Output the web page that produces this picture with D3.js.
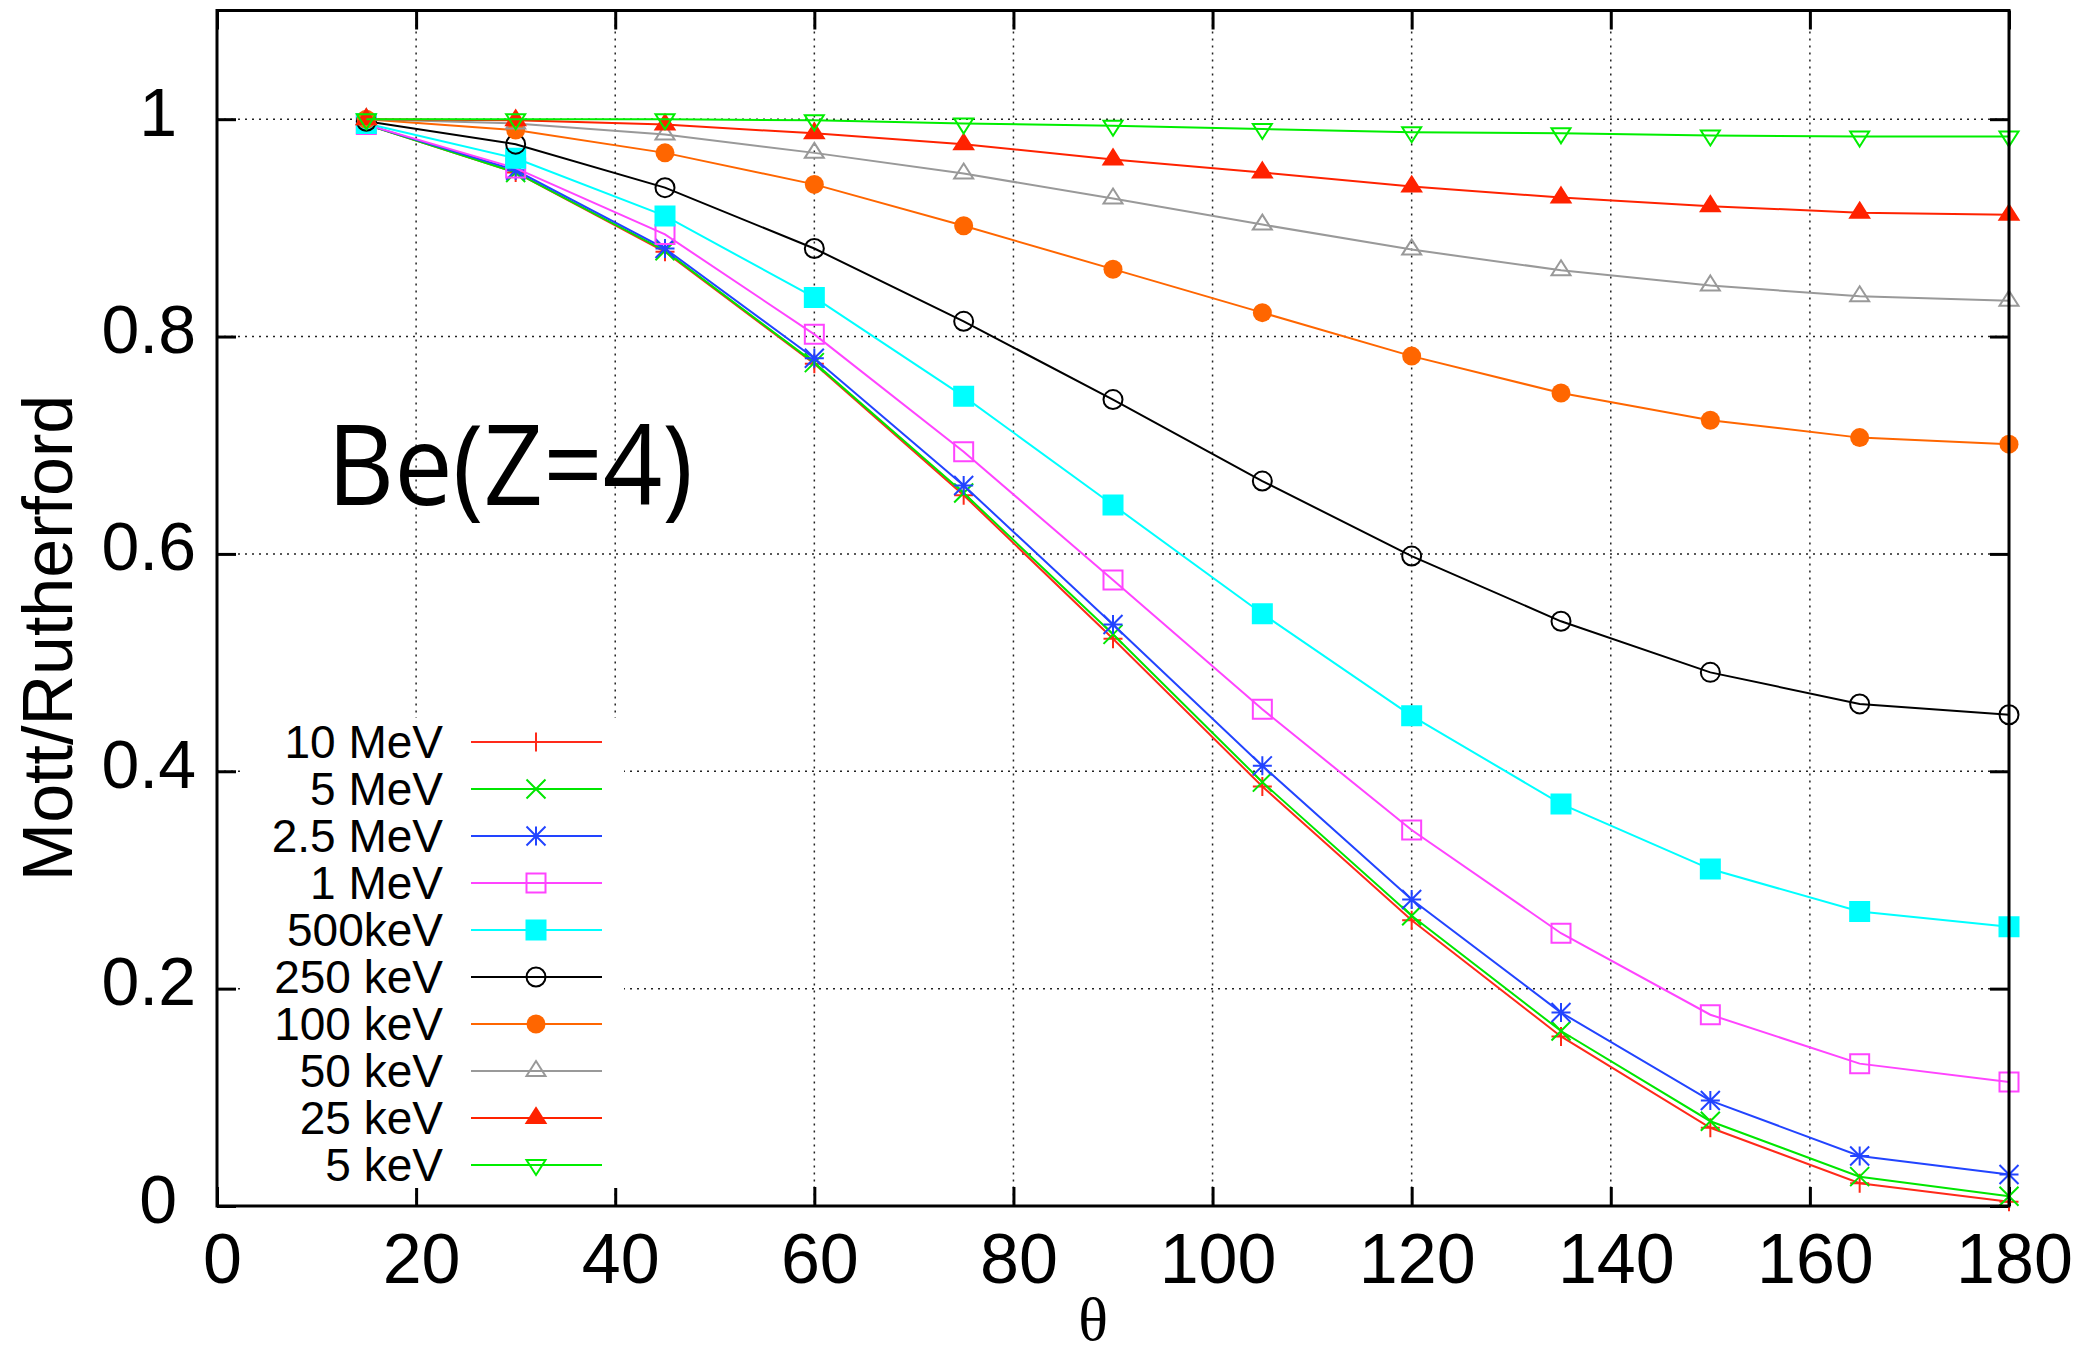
<!DOCTYPE html>
<html>
<head>
<meta charset="utf-8">
<script src="https://cdn.jsdelivr.net/npm/d3@7/dist/d3.min.js"></script>
<style>
  html, body { margin: 0; padding: 0; background: #fff; }
  svg { display: block; }
</style>
</head>
<body>
<svg id="chart" width="2082" height="1357"></svg>
<script>
// ---------------- data ----------------
const angles = [15, 30, 45, 60, 75, 90, 105, 120, 135, 150, 165, 180];
const seriesNames = ["10 MeV", "5 MeV", "2.5 MeV", "1 MeV", "500keV", "250 keV", "100 keV", "50 keV", "25 keV", "5 keV"];
const mev10  = [0.995, 0.951, 0.878, 0.775, 0.654, 0.522, 0.386, 0.263, 0.156, 0.072, 0.021, 0.004];
const mev5   = [0.995, 0.951, 0.879, 0.776, 0.656, 0.526, 0.390, 0.267, 0.161, 0.078, 0.027, 0.009];
const mev2_5 = [0.995, 0.953, 0.881, 0.780, 0.663, 0.535, 0.405, 0.282, 0.178, 0.097, 0.046, 0.029];
const mev1   = [0.995, 0.955, 0.894, 0.802, 0.694, 0.576, 0.457, 0.346, 0.251, 0.176, 0.131, 0.114];
const kev500 = [0.996, 0.964, 0.911, 0.836, 0.745, 0.645, 0.545, 0.451, 0.370, 0.310, 0.271, 0.257];
const kev250 = [0.998, 0.977, 0.937, 0.881, 0.814, 0.742, 0.667, 0.598, 0.538, 0.491, 0.462, 0.452];
const kev100 = [1.000, 0.990, 0.969, 0.940, 0.902, 0.862, 0.822, 0.782, 0.748, 0.723, 0.707, 0.701];
const kev50  = [1.000, 0.996, 0.986, 0.969, 0.950, 0.927, 0.903, 0.880, 0.861, 0.847, 0.837, 0.833];
const kev25  = [1.000, 0.999, 0.995, 0.987, 0.977, 0.963, 0.951, 0.938, 0.928, 0.920, 0.914, 0.912];
const kev5   = [1.000, 1.000, 1.000, 0.999, 0.996, 0.994, 0.991, 0.988, 0.987, 0.985, 0.984, 0.984];
const seriesValues = [mev10, mev5, mev2_5, mev1, kev500, kev250, kev100, kev50, kev25, kev5];
const xTicks = [0, 20, 40, 60, 80, 100, 120, 140, 160, 180];
const yTicks = [0, 0.2, 0.4, 0.6, 0.8, 1];
const xTitle = "θ";
const yTitle = "Mott/Rutherford";
const annotation = "Be(Z=4)";

// ---------------- styles ----------------
const seriesColors = ["#ff2a1a", "#00e600", "#2244ff", "#ff44ff", "#00ffff", "#000000", "#ff6600", "#999999", "#ff2200", "#00ee00"];
const seriesMarkers = ["plus", "cross", "star", "openSquare", "filledSquare", "openCircle", "filledCircle", "openTriUp", "filledTriUp", "openTriDown"];

const W = 2082, H = 1357;
const X0 = 217, X1 = 2009, YT = 10.5, YB = 1206;
const svg = d3.select("#chart");
svg.append("rect").attr("width", W).attr("height", H).attr("fill", "#fff");

const x = d3.scaleLinear().domain([0, 180]).range([X0, X1]);
const y = d3.scaleLinear().domain([0, 1.1]).range([YB, YT]);

const FONT = "'Liberation Sans', Arial, Helvetica, sans-serif";

// grid
const grid = svg.append("g").attr("stroke", "#222").attr("stroke-width", 1.5).attr("stroke-dasharray", "2,5");
grid.selectAll("line.gx").data(xTicks.filter(d => d > 0 && d < 180)).join("line")
  .attr("x1", d => x(d)).attr("x2", d => x(d)).attr("y1", YT).attr("y2", YB);
grid.selectAll("line.gy").data(yTicks.filter(d => d > 0)).join("line")
  .attr("x1", X0).attr("x2", X1).attr("y1", d => y(d)).attr("y2", d => y(d));

// axes
const TICK = 19;
const fmt = d => String(+d.toFixed(1));
const gx = svg.append("g").attr("transform", `translate(0,${YB})`)
  .call(d3.axisBottom(x).tickValues(xTicks).tickSize(-TICK).tickFormat(fmt));
gx.selectAll("text").attr("y", 77).attr("dy", null).attr("dx", 5)
  .attr("font-size", 70).attr("font-family", FONT).attr("fill", "#000");
const gy = svg.append("g").attr("transform", `translate(${X0},0)`)
  .call(d3.axisLeft(y).tickValues(yTicks).tickSize(-TICK).tickFormat(fmt));
gy.selectAll("text").attr("x", d => fmt(d).length === 1 ? -40 : -21).attr("dy", null).attr("y", 16)
  .attr("font-size", 68).attr("font-family", FONT).attr("fill", "#000");
const gt = svg.append("g").attr("transform", `translate(0,${YT})`)
  .call(d3.axisTop(x).tickValues(xTicks).tickSize(-TICK).tickFormat(""));
const gr = svg.append("g").attr("transform", `translate(${X1},0)`)
  .call(d3.axisRight(y).tickValues(yTicks).tickSize(-TICK).tickFormat(""));
[gx, gy, gt, gr].forEach(g => {
  g.select(".domain").remove();
  g.selectAll(".tick line").attr("stroke", "#000").attr("stroke-width", 3);
});

// annotation
svg.append("text").attr("x", 327).attr("y", 505)
  .attr("font-family", "'Open Sans', sans-serif").attr("font-size", 112)
  .attr("textLength", 366).attr("lengthAdjust", "spacingAndGlyphs")
  .attr("fill", "#000").text(annotation);

// markers
function marker(g, type, cx, cy, color) {
  const s = 9.5;
  const sw = 2;
  const p = (d, fill) => g.append("path").attr("d", d)
    .attr("stroke", color).attr("stroke-width", sw)
    .attr("fill", fill ? color : "none");
  switch (type) {
    case "plus": p(`M${cx - s},${cy}H${cx + s}M${cx},${cy - s}V${cy + s}`); break;
    case "cross": p(`M${cx - s},${cy - s}L${cx + s},${cy + s}M${cx - s},${cy + s}L${cx + s},${cy - s}`); break;
    case "star": p(`M${cx - s},${cy}H${cx + s}M${cx},${cy - s}V${cy + s}M${cx - s},${cy - s}L${cx + s},${cy + s}M${cx - s},${cy + s}L${cx + s},${cy - s}`); break;
    case "openSquare": p(`M${cx - s},${cy - s}H${cx + s}V${cy + s}H${cx - s}Z`); break;
    case "filledSquare": p(`M${cx - s},${cy - s}H${cx + s}V${cy + s}H${cx - s}Z`, true); break;
    case "openCircle": g.append("circle").attr("cx", cx).attr("cy", cy).attr("r", s).attr("stroke", color).attr("stroke-width", sw).attr("fill", "none"); break;
    case "filledCircle": g.append("circle").attr("cx", cx).attr("cy", cy).attr("r", s).attr("fill", color); break;
    case "openTriUp": p(`M${cx},${cy - 10}L${cx + s},${cy + 5}L${cx - s},${cy + 5}Z`); break;
    case "filledTriUp": p(`M${cx},${cy - 10}L${cx + s},${cy + 5}L${cx - s},${cy + 5}Z`, true); break;
    case "openTriDown": p(`M${cx},${cy + 10}L${cx + s},${cy - 5}L${cx - s},${cy - 5}Z`); break;
  }
}

// legend background (white, no border)
const LX = 245, LY = 718, LW = 379, LH = 470;
svg.append("rect").attr("x", LX).attr("y", LY).attr("width", LW).attr("height", LH).attr("fill", "#fff");

// series
const line = d3.line().x((d, i) => x(angles[i])).y(d => y(d));
const plot = svg.append("g");
seriesValues.forEach((vals, k) => {
  const g = plot.append("g");
  g.append("path").attr("d", line(vals)).attr("fill", "none")
    .attr("stroke", seriesColors[k]).attr("stroke-width", 2);
  vals.forEach((v, i) => marker(g, seriesMarkers[k], x(angles[i]), y(v), seriesColors[k]));
});

// legend entries
const leg = svg.append("g");
seriesNames.forEach((name, k) => {
  const cy = 742 + 47 * k;
  leg.append("text").attr("x", 443).attr("y", cy + 16).attr("text-anchor", "end")
    .attr("font-family", FONT).attr("font-size", 46).attr("fill", "#000").text(name);
  leg.append("line").attr("x1", 471).attr("x2", 602).attr("y1", cy).attr("y2", cy)
    .attr("stroke", seriesColors[k]).attr("stroke-width", 2);
  marker(leg, seriesMarkers[k], 536, cy, seriesColors[k]);
});

// border
svg.append("rect").attr("x", X0).attr("y", YT).attr("width", X1 - X0).attr("height", YB - YT)
  .attr("fill", "none").attr("stroke", "#000").attr("stroke-width", 3);

// axis titles
svg.append("text").attr("transform", "translate(72,638) rotate(-90)").attr("text-anchor", "middle")
  .attr("font-family", FONT).attr("font-size", 70).attr("fill", "#000").text(yTitle);
svg.append("text").attr("x", 1093).attr("y", 1340).attr("text-anchor", "middle")
  .attr("font-family", "'Liberation Serif', 'Times New Roman', serif").attr("font-size", 62).attr("fill", "#000").text(xTitle);
</script>
</body>
</html>
